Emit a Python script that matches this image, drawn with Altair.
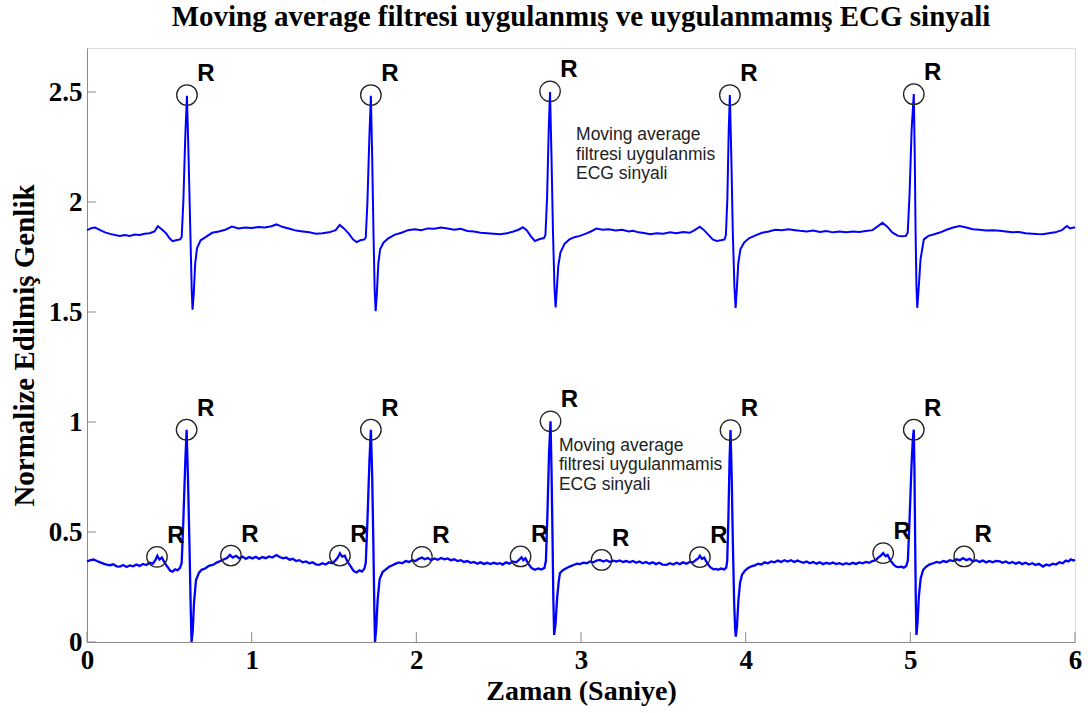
import altair as alt
import pandas as pd

TITLE = "Moving average filtresi uygulanmış ve uygulanmamış ECG sinyali"
X_TITLE = "Zaman (Saniye)"
Y_TITLE = "Normalize Edilmiş Genlik"
X_TICKS = [0, 1, 2, 3, 4, 5, 6]
Y_TICKS = [0, 0.5, 1, 1.5, 2, 2.5]

# Filtered (moving average) ECG: (time s, amplitude)
UPPER = [
    (0.00, 1.872), (0.03, 1.882), (0.05, 1.884), (0.08, 1.872), (0.11, 1.862), (0.14, 1.855),
    (0.17, 1.850), (0.20, 1.846), (0.23, 1.850), (0.26, 1.846), (0.29, 1.852), (0.32, 1.850),
    (0.35, 1.856), (0.38, 1.858), (0.41, 1.866), (0.43, 1.890), (0.45, 1.878), (0.48, 1.858),
    (0.50, 1.836), (0.52, 1.822), (0.54, 1.826), (0.565, 1.830),
    (0.575, 1.84), (0.585, 2.0), (0.597, 2.30), (0.607, 2.483), (0.617, 2.2), (0.628, 1.85),
    (0.636, 1.6), (0.641, 1.510), (0.648, 1.58), (0.657, 1.72), (0.668, 1.79), (0.69, 1.826),
    (0.72, 1.840), (0.76, 1.860), (0.80, 1.866), (0.84, 1.874), (0.88, 1.888), (0.92, 1.880),
    (0.96, 1.884), (1.00, 1.882), (1.04, 1.886), (1.08, 1.884), (1.12, 1.890), (1.15, 1.898),
    (1.19, 1.886), (1.23, 1.878), (1.27, 1.870), (1.31, 1.866), (1.35, 1.862), (1.39, 1.856),
    (1.43, 1.858), (1.47, 1.862), (1.51, 1.872), (1.535, 1.896), (1.56, 1.880), (1.59, 1.856),
    (1.615, 1.830), (1.637, 1.818), (1.66, 1.826), (1.685, 1.830),
    (1.693, 1.84), (1.703, 2.0), (1.715, 2.30), (1.724, 2.483), (1.732, 2.2), (1.740, 1.85),
    (1.747, 1.6), (1.753, 1.504), (1.760, 1.58), (1.769, 1.72), (1.780, 1.785), (1.80, 1.815),
    (1.83, 1.835), (1.87, 1.852), (1.91, 1.860), (1.95, 1.872), (1.99, 1.876), (2.03, 1.872),
    (2.07, 1.880), (2.11, 1.878), (2.15, 1.884), (2.19, 1.880), (2.23, 1.874), (2.27, 1.878),
    (2.31, 1.868), (2.35, 1.866), (2.39, 1.860), (2.43, 1.858), (2.47, 1.856), (2.51, 1.853),
    (2.55, 1.858), (2.59, 1.866), (2.62, 1.874), (2.647, 1.885), (2.67, 1.872), (2.695, 1.845),
    (2.72, 1.823), (2.75, 1.832), (2.775, 1.836),
    (2.784, 1.85), (2.794, 2.02), (2.804, 2.33), (2.812, 2.500), (2.821, 2.2), (2.830, 1.86),
    (2.839, 1.61), (2.846, 1.521), (2.853, 1.60), (2.862, 1.71), (2.875, 1.77), (2.900, 1.81),
    (2.930, 1.830), (2.960, 1.840), (2.993, 1.846), (3.03, 1.856), (3.06, 1.866), (3.094, 1.879),
    (3.13, 1.874), (3.17, 1.876), (3.21, 1.870), (3.25, 1.874), (3.29, 1.866), (3.316, 1.869),
    (3.35, 1.862), (3.39, 1.858), (3.42, 1.853), (3.46, 1.858), (3.50, 1.856), (3.54, 1.862),
    (3.58, 1.858), (3.62, 1.864), (3.66, 1.860), (3.69, 1.872), (3.722, 1.888), (3.75, 1.870),
    (3.78, 1.846), (3.80, 1.830), (3.823, 1.823), (3.85, 1.826), (3.872, 1.830),
    (3.880, 1.85), (3.889, 2.02), (3.897, 2.32), (3.904, 2.486), (3.913, 2.2), (3.922, 1.86),
    (3.932, 1.61), (3.939, 1.519), (3.946, 1.60), (3.955, 1.72), (3.968, 1.785), (3.99, 1.815),
    (4.02, 1.835), (4.06, 1.848), (4.10, 1.860), (4.14, 1.866), (4.18, 1.874), (4.22, 1.872),
    (4.26, 1.876), (4.30, 1.872), (4.33, 1.869), (4.37, 1.866), (4.41, 1.870), (4.45, 1.864),
    (4.49, 1.868), (4.53, 1.862), (4.57, 1.866), (4.61, 1.862), (4.65, 1.866), (4.69, 1.864),
    (4.73, 1.868), (4.77, 1.872), (4.80, 1.888), (4.831, 1.906), (4.86, 1.888), (4.89, 1.862),
    (4.925, 1.846), (4.95, 1.844), (4.973, 1.846),
    (4.984, 1.86), (4.995, 2.03), (5.008, 2.33), (5.021, 2.491), (5.027, 2.2), (5.032, 1.86),
    (5.037, 1.62), (5.042, 1.519), (5.050, 1.60), (5.062, 1.74), (5.082, 1.830), (5.11, 1.846),
    (5.14, 1.852), (5.179, 1.861), (5.22, 1.874), (5.26, 1.884), (5.30, 1.891), (5.34, 1.884),
    (5.379, 1.876), (5.42, 1.874), (5.46, 1.870), (5.50, 1.872), (5.543, 1.869), (5.58, 1.866),
    (5.62, 1.862), (5.66, 1.864), (5.70, 1.858), (5.74, 1.856), (5.77, 1.854), (5.804, 1.853),
    (5.84, 1.858), (5.88, 1.862), (5.92, 1.872), (5.95, 1.891), (5.97, 1.880), (6.00, 1.885),
]

# Unfiltered ECG: (time s, amplitude)
LOWER = [
    (0.000, 0.366), (0.020, 0.372), (0.040, 0.375), (0.060, 0.368), (0.080, 0.362), (0.100, 0.356),
    (0.120, 0.352), (0.140, 0.349), (0.160, 0.353), (0.180, 0.344), (0.200, 0.343), (0.220, 0.350),
    (0.240, 0.341), (0.260, 0.348), (0.280, 0.344), (0.300, 0.352), (0.320, 0.346), (0.340, 0.355),
    (0.360, 0.350), (0.380, 0.360), (0.400, 0.356), (0.415, 0.372), (0.427, 0.392), (0.440, 0.375),
    (0.455, 0.384), (0.470, 0.362), (0.490, 0.340), (0.505, 0.324), (0.520, 0.320), (0.535, 0.330),
    (0.550, 0.326), (0.565, 0.337),
    (0.575, 0.36), (0.585, 0.55), (0.597, 0.82), (0.605, 0.965), (0.613, 0.75), (0.622, 0.45),
    (0.630, 0.15), (0.635, 0.0), (0.642, 0.05), (0.650, 0.18), (0.662, 0.282), (0.680, 0.315),
    (0.696, 0.328), (0.720, 0.335), (0.740, 0.346), (0.767, 0.351), (0.790, 0.362), (0.810, 0.368),
    (0.830, 0.375), (0.850, 0.382), (0.868, 0.396), (0.885, 0.384), (0.905, 0.392), (0.925, 0.380),
    (0.945, 0.388), (0.965, 0.378), (0.985, 0.386), (1.005, 0.380), (1.025, 0.387), (1.045, 0.378),
    (1.065, 0.386), (1.085, 0.381), (1.105, 0.389), (1.125, 0.384), (1.150, 0.395), (1.170, 0.386),
    (1.190, 0.380), (1.210, 0.384), (1.230, 0.374), (1.250, 0.378), (1.270, 0.368), (1.290, 0.372),
    (1.310, 0.362), (1.330, 0.366), (1.350, 0.358), (1.370, 0.362), (1.390, 0.353), (1.410, 0.351),
    (1.430, 0.358), (1.450, 0.352), (1.470, 0.362), (1.490, 0.358), (1.510, 0.372), (1.525, 0.386),
    (1.536, 0.403), (1.550, 0.388), (1.565, 0.392), (1.580, 0.368), (1.600, 0.345), (1.620, 0.322),
    (1.637, 0.316), (1.655, 0.326), (1.670, 0.320), (1.685, 0.334),
    (1.693, 0.36), (1.703, 0.55), (1.715, 0.82), (1.724, 0.965), (1.732, 0.75), (1.739, 0.45),
    (1.745, 0.15), (1.749, 0.0), (1.756, 0.06), (1.765, 0.19), (1.777, 0.285), (1.795, 0.318),
    (1.815, 0.330), (1.835, 0.342), (1.855, 0.349), (1.875, 0.356), (1.895, 0.362), (1.915, 0.358),
    (1.935, 0.368), (1.955, 0.364), (1.975, 0.372), (1.995, 0.368), (2.015, 0.378), (2.034, 0.384),
    (2.050, 0.376), (2.070, 0.382), (2.090, 0.372), (2.110, 0.380), (2.130, 0.374), (2.150, 0.382),
    (2.170, 0.376), (2.190, 0.380), (2.210, 0.372), (2.230, 0.376), (2.250, 0.368), (2.270, 0.372),
    (2.290, 0.364), (2.310, 0.368), (2.330, 0.360), (2.350, 0.364), (2.370, 0.356), (2.390, 0.362),
    (2.410, 0.355), (2.430, 0.360), (2.450, 0.354), (2.470, 0.360), (2.490, 0.355), (2.508, 0.358),
    (2.525, 0.352), (2.545, 0.362), (2.565, 0.356), (2.585, 0.366), (2.605, 0.362), (2.622, 0.372),
    (2.639, 0.385), (2.650, 0.372), (2.662, 0.380), (2.680, 0.356), (2.700, 0.336), (2.720, 0.328),
    (2.740, 0.334), (2.760, 0.330), (2.778, 0.337),
    (2.787, 0.37), (2.796, 0.58), (2.806, 0.86), (2.815, 1.003), (2.821, 0.78), (2.827, 0.48),
    (2.832, 0.20), (2.837, 0.032), (2.845, 0.08), (2.855, 0.20), (2.864, 0.27), (2.872, 0.313),
    (2.890, 0.326), (2.913, 0.336), (2.935, 0.344), (2.955, 0.350), (2.975, 0.356), (2.995, 0.354),
    (3.014, 0.361), (3.035, 0.358), (3.055, 0.366), (3.075, 0.362), (3.095, 0.370), (3.115, 0.373),
    (3.135, 0.366), (3.155, 0.372), (3.175, 0.364), (3.195, 0.370), (3.215, 0.366), (3.235, 0.371),
    (3.255, 0.364), (3.275, 0.368), (3.295, 0.362), (3.315, 0.368), (3.335, 0.360), (3.355, 0.366),
    (3.375, 0.358), (3.395, 0.364), (3.415, 0.356), (3.435, 0.362), (3.455, 0.354), (3.475, 0.360),
    (3.495, 0.352), (3.520, 0.351), (3.540, 0.358), (3.560, 0.352), (3.580, 0.360), (3.600, 0.354),
    (3.620, 0.362), (3.640, 0.356), (3.660, 0.364), (3.680, 0.362), (3.700, 0.374), (3.712, 0.380),
    (3.722, 0.392), (3.735, 0.378), (3.748, 0.384), (3.765, 0.360), (3.785, 0.340), (3.805, 0.330),
    (3.820, 0.332), (3.833, 0.328), (3.850, 0.334), (3.870, 0.330), (3.882, 0.338),
    (3.888, 0.37), (3.895, 0.56), (3.902, 0.82), (3.908, 0.963), (3.915, 0.76), (3.922, 0.46),
    (3.930, 0.18), (3.936, 0.06), (3.940, 0.024), (3.947, 0.07), (3.956, 0.19), (3.966, 0.27),
    (3.978, 0.306), (3.995, 0.324), (4.015, 0.336), (4.035, 0.344), (4.055, 0.348), (4.075, 0.356),
    (4.095, 0.352), (4.115, 0.362), (4.135, 0.358), (4.155, 0.366), (4.175, 0.362), (4.195, 0.370),
    (4.215, 0.364), (4.235, 0.372), (4.255, 0.366), (4.275, 0.372), (4.295, 0.364), (4.315, 0.370),
    (4.329, 0.366), (4.350, 0.360), (4.370, 0.366), (4.390, 0.358), (4.410, 0.364), (4.430, 0.356),
    (4.450, 0.362), (4.470, 0.354), (4.490, 0.360), (4.510, 0.355), (4.530, 0.361), (4.550, 0.354),
    (4.570, 0.358), (4.590, 0.352), (4.610, 0.358), (4.630, 0.353), (4.650, 0.360), (4.670, 0.355),
    (4.690, 0.362), (4.710, 0.358), (4.730, 0.364), (4.750, 0.360), (4.770, 0.368), (4.790, 0.372),
    (4.805, 0.384), (4.820, 0.392), (4.835, 0.404), (4.850, 0.390), (4.862, 0.396), (4.880, 0.370),
    (4.900, 0.350), (4.915, 0.342), (4.926, 0.340), (4.945, 0.342), (4.960, 0.338), (4.975, 0.345),
    (4.985, 0.37), (4.995, 0.55), (5.007, 0.80), (5.015, 0.92), (5.021, 0.965), (5.025, 0.78),
    (5.029, 0.48), (5.033, 0.20), (5.037, 0.032), (5.044, 0.09), (5.052, 0.21), (5.063, 0.29),
    (5.078, 0.328), (5.095, 0.342), (5.115, 0.352), (5.139, 0.358), (5.160, 0.364), (5.180, 0.360),
    (5.200, 0.368), (5.220, 0.364), (5.240, 0.372), (5.260, 0.368), (5.280, 0.376), (5.300, 0.372),
    (5.321, 0.381), (5.340, 0.372), (5.360, 0.378), (5.380, 0.366), (5.400, 0.372), (5.420, 0.364),
    (5.440, 0.370), (5.460, 0.362), (5.480, 0.368), (5.500, 0.362), (5.520, 0.368), (5.543, 0.366),
    (5.560, 0.360), (5.580, 0.366), (5.600, 0.358), (5.620, 0.364), (5.640, 0.356), (5.660, 0.362),
    (5.680, 0.354), (5.700, 0.360), (5.720, 0.352), (5.740, 0.358), (5.760, 0.350), (5.780, 0.356),
    (5.806, 0.343), (5.825, 0.352), (5.845, 0.348), (5.865, 0.356), (5.885, 0.352), (5.905, 0.362),
    (5.925, 0.358), (5.945, 0.370), (5.960, 0.366), (5.975, 0.376), (5.990, 0.370), (6.000, 0.373),
]

# R marker circles (time, amplitude)
R_MARKS = [
    (0.607, 2.486), (1.724, 2.486), (2.812, 2.503), (3.904, 2.486), (5.021, 2.490),
    (0.605, 0.965), (1.724, 0.965), (2.815, 1.003), (3.908, 0.963), (5.021, 0.965),
    (0.425, 0.387), (0.874, 0.393), (1.536, 0.393), (2.034, 0.387), (2.633, 0.389),
    (3.125, 0.373), (3.722, 0.386), (4.835, 0.404), (5.327, 0.389),
]

NOTE_UP = ["Moving average", "filtresi uygulanmis", "ECG sinyali"]
NOTE_LO = ["Moving average", "filtresi uygulanmamis", "ECG sinyali"]
NOTE_UP_POS = (2.970, 2.345)
NOTE_LO_POS = (2.866, 0.932)

df_up = pd.DataFrame(UPPER, columns=["t", "v"])
df_lo = pd.DataFrame(LOWER, columns=["t", "v"])
df_r = pd.DataFrame(R_MARKS, columns=["t", "v"])
df_xt = pd.DataFrame({"t": X_TICKS, "v": [0] * len(X_TICKS)})
df_yt = pd.DataFrame({"t": [0] * len(Y_TICKS), "v": Y_TICKS})
df_notes = pd.DataFrame({
    "t": [NOTE_UP_POS[0], NOTE_LO_POS[0]],
    "v": [NOTE_UP_POS[1], NOTE_LO_POS[1]],
    "txt": [NOTE_UP, NOTE_LO],
})

SERIF = "Liberation Serif"
SANS = "Liberation Sans"
AX = "#8a8a8a"

xs = alt.Scale(domain=[0, 6], nice=False, zero=False)
ys = alt.Scale(domain=[0, 2.7], nice=False, zero=False)

x_axis = alt.Axis(values=X_TICKS, ticks=False, grid=False, domainColor=AX, domainWidth=1,
                  labelFont=SERIF, labelFontWeight="bold", labelFontSize=27, labelColor="black",
                  labelPadding=5, labelFlush=False, labelExpr="'' + datum.value",
                  title=X_TITLE, titleFont=SERIF, titleFontWeight="bold", titleFontSize=28,
                  titleColor="black", titlePadding=4)
y_axis = alt.Axis(values=Y_TICKS, ticks=False, grid=False, domainColor=AX, domainWidth=1,
                  labelFont=SERIF, labelFontWeight="bold", labelFontSize=27, labelColor="black",
                  labelPadding=5, labelFlush=False, labelExpr="'' + datum.value",
                  title=Y_TITLE, titleFont=SERIF, titleFontWeight="bold", titleFontSize=29,
                  titleColor="black", titlePadding=9)

X = alt.X("t:Q", scale=xs, axis=x_axis)
Y = alt.Y("v:Q", scale=ys, axis=y_axis)
Xn = alt.X("t:Q", scale=xs)
Yn = alt.Y("v:Q", scale=ys)

line_up = alt.Chart(df_up).mark_line(color="#0000ff", strokeWidth=2).encode(x=X, y=Y)
line_lo = alt.Chart(df_lo).mark_line(color="#0000ff", strokeWidth=2.3).encode(x=Xn, y=Yn)
circles = alt.Chart(df_r).mark_point(shape="circle", size=420, filled=False, stroke="#222222",
                                      strokeWidth=1.3, opacity=1).encode(x=Xn, y=Yn)
rlabels = alt.Chart(df_r).mark_text(text="R", font=SANS, fontWeight="bold", fontSize=24,
                                    dx=19, dy=-21, color="black", align="center",
                                    baseline="middle").encode(x=Xn, y=Yn)
xticks = alt.Chart(df_xt).mark_tick(orient="vertical", size=10, thickness=1, color=AX,
                                    yOffset=-5, opacity=1).encode(x=Xn, y=Yn)
yticks = alt.Chart(df_yt).mark_tick(orient="horizontal", size=9, thickness=1, color=AX,
                                    xOffset=4.5, opacity=1).encode(x=Xn, y=Yn)
notes = alt.Chart(df_notes).mark_text(font=SANS, fontSize=17.5, lineHeight=19.5, align="left",
                                      baseline="top", color="#222222").encode(
    x=Xn, y=Yn, text="txt")

chart = alt.layer(xticks, yticks, line_up, line_lo, circles, rlabels, notes).properties(
    width=988, height=594,
    title=alt.TitleParams(TITLE, font=SERIF, fontWeight="bold", fontSize=29, color="black",
                          anchor="middle", baseline="alphabetic", offset=21, dy=28),
    autosize=alt.AutoSizeParams(type="none"),
    padding={"left": 87, "top": 48, "right": 13, "bottom": 71},
).configure_view(stroke=None).configure(background="white")

chart.save("out.html", embed_options={"renderer": "svg", "actions": False})
